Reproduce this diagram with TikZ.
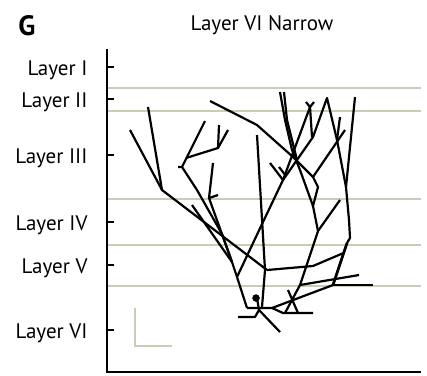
\documentclass[tikz,border=0pt]{standalone}
\usepackage{fontspec}
\setmainfont{PT Sans}
\usepackage{tikz}
\usepackage{xcolor}

\definecolor{layergray}{RGB}{204,204,180}

\begin{document}
\begin{tikzpicture}[x=1pt,y=-1pt,
  dend/.style={line width=2.2pt, line join=round},
  layerline/.style={draw=layergray, line width=1.5pt},
  laylabel/.style={anchor=base east, font=\fontsize{21}{24}\selectfont}]
\useasboundingbox (0,0) rectangle (427,375);

\node (panel) at (27,35.5) [anchor=base, font=\fontsize{28}{32}\selectfont\bfseries] {G};
\node (title) at (262,30) [anchor=base, font=\fontsize{21}{24}\selectfont] {Layer VI Narrow};

% layer borders
\foreach \y in {88,111,199,245,286}
  \draw[layerline] (107,\y) -- (421,\y);

% axes and ticks
\draw[line width=2pt] (107,49) -- (107,372) -- (421,372);
\foreach \y in {67,99,155,222,265,330}
  \draw[line width=2pt] (107,\y) -- (114,\y);

\node[laylabel] (lI) at (91,75.5) {Layer I};
\node[laylabel] (lII) at (91,107.5) {Layer II};
\node[laylabel] (lIII) at (91,163.5) {Layer III};
\node[laylabel] (lIV) at (91,230.5) {Layer IV};
\node[laylabel] (lV) at (91,273.5) {Layer V};
\node[laylabel] (lVI) at (91,338.5) {Layer VI};

% scale bar
\draw[layerline] (135,308) -- (135,346) -- (172,346);

% left tree
\draw[dend] (130,130) -- (162,190) -- (267,270);
\draw[dend] (148,107) -- (162,190);
\draw[dend] (178,167) -- (182,167) -- (205,121);
\draw[dend] (186,158) -- (218,148) -- (228,130);
\draw[dend] (218,148) -- (219,125);
\draw[dend] (182,167) -- (197,190) -- (222,234) -- (232,262) -- (237,277) -- (247,308);
\draw[dend] (213,163) -- (209,198) -- (232,262);
\draw[dend] (209,198) -- (218,195);
\draw[dend] (192,205) -- (232,262);

% middle
\draw[dend] (257,135) -- (265,270) -- (262,307);
\draw[dend] (210,101) -- (257,125) -- (293,157) -- (313,177) -- (318,187) -- (313,206) -- (318,231);
\draw[dend] (237,277) -- (263,222) -- (283,180) -- (310,107);
\draw[dend] (306,102) -- (310,107) -- (314,102);
\draw[dend] (310,107) -- (312,137);
\draw[dend] (283,180) -- (313,137) -- (327,98) -- (337,140) -- (346,187);
\draw[dend] (270,163) -- (283,180);
\draw[dend] (279,167) -- (286,176);
\draw[dend] (280,92) -- (285,120) -- (292,150) -- (300,170) -- (313,206);
\draw[dend] (284,92) -- (287,120) -- (297,160);
\draw[dend] (340,117) -- (337,140);
\draw[dend] (345,130) -- (313,177);

% right side
\draw[dend] (355,97) -- (346,187) -- (349,220) -- (350,238) -- (347,243);
\draw[dend, line width=2.8pt] (347,243) -- (333,285);
\draw[dend] (267,270) -- (313,266) -- (343.5,253);
\draw[dend] (340,200) -- (318,231) -- (300,285) -- (285,313);
\draw[dend, line width=2.5pt] (333,285) -- (373,285);
\draw[dend] (300,285) -- (359,275);
\draw[dend] (272,308) -- (333,285);
\draw[dend] (288,290) -- (298,313);

% soma and base
\draw[dend] (247,308) -- (272,308) -- (283,313) -- (313,313);
\draw[fill=black] (256,298) circle (3.5);
\draw[dend] (257,298) -- (259,310);
\draw[dend] (238,317) -- (255,317) -- (259,310) -- (280,332);
\end{tikzpicture}
\end{document}
